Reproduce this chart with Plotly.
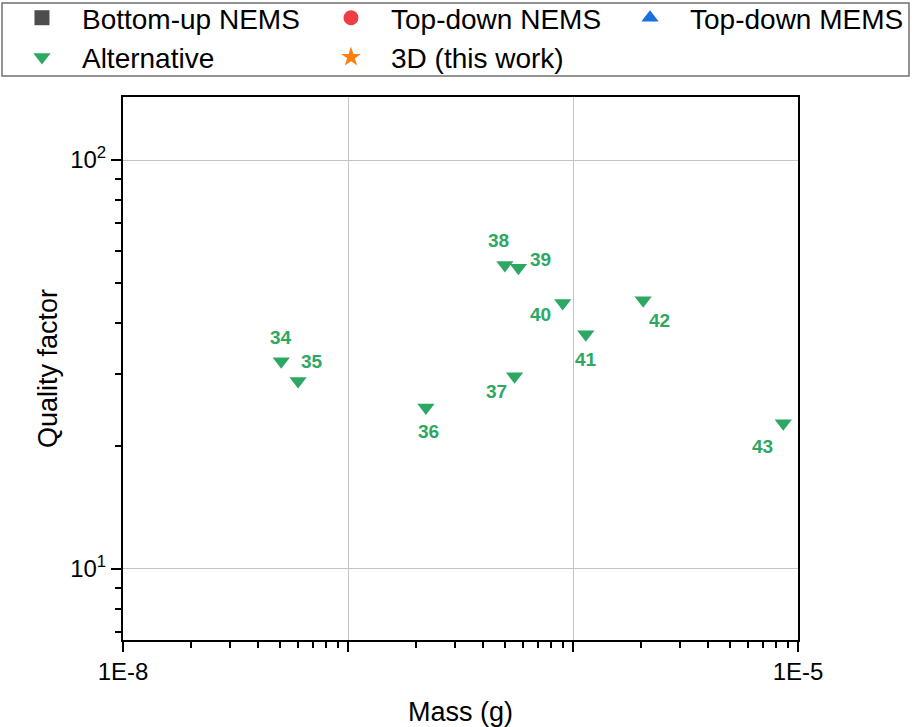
import numpy as np
import plotly.graph_objects as go

# ---- data ----
alt_refs = ["34", "35", "36", "37", "38", "39", "40", "41", "42", "43"]
alt_mass = [5.05e-8, 6.0e-8, 2.22e-7, 5.5e-7, 4.98e-7, 5.72e-7, 9.0e-7, 1.14e-6, 2.05e-6, 8.6e-6]
alt_q = [32.2, 28.8, 24.8, 29.6, 55.4, 54.5, 44.7, 37.5, 45.4, 22.7]

series_names = ["Bottom-up NEMS", "Top-down NEMS", "Top-down MEMS", "Alternative", "3D (this work)"]
series_symbols = ["square", "circle", "triangle-up", "triangle-down", "star"]
series_colors = ["#4d4d4d", "#ef3d45", "#1a6fdf", "#2ca862", "#ff7f0e"]
series_legend = ["legend", "legend2", "legend3", "legend", "legend2"]

# label offsets (pixels) for reference numbers
label_dx = [0, 14, 3, -18, -6, 22, -22, 0, 16, -21]
label_dy = [24, 20, -24, -15, 24, 8, -12, -25, -20, -23]

x_grid_ticks = [1e-8, 1e-7, 1e-6, 1e-5]
x_label_vals = [1e-8, 1e-5]
x_label_text = ["1E-8", "1E-5"]
x_minor = [k * 10.0 ** e for e in (-8, -7, -6) for k in range(2, 10)]
y_tickvals = [10, 100]
y_ticktext = ["10<sup>1</sup>", "10<sup>2</sup>"]
y_minor = [7, 8, 9, 20, 30, 40, 50, 60, 70, 80, 90]

FONT = "Liberation Sans, Arial, sans-serif"

fig = go.Figure()
for name, sym, col, lg in zip(series_names, series_symbols, series_colors, series_legend):
    if name == "Alternative":
        xs, ys = alt_mass, alt_q
    else:
        xs, ys = [None], [None]
    fig.add_trace(go.Scatter(
        x=xs, y=ys, mode="markers", name=name, legend=lg,
        marker=dict(symbol=sym, color=col, size=15, line=dict(width=0)),
    ))
# carrier for the labelled x axis
fig.add_trace(go.Scatter(x=[None], y=[None], xaxis="x2", showlegend=False,
                         hoverinfo="skip", mode="markers"))

for ref, m, q, dx, dy in zip(alt_refs, alt_mass, alt_q, label_dx, label_dy):
    fig.add_annotation(
        x=np.log10(m), y=np.log10(q), text=ref, showarrow=False,
        xshift=dx, yshift=dy,
        font=dict(family=FONT, size=19, color=series_colors[3], weight="bold"),
    )

axis_common = dict(
    type="log", showline=True, linecolor="black", linewidth=2, mirror=True,
    ticks="outside", ticklen=10, tickwidth=1.5, tickcolor="black",
    showgrid=True, gridcolor="#c4c4c4", gridwidth=1, zeroline=False,
    tickfont=dict(family=FONT, size=24, color="black"),
    automargin=False,
)

fig.update_layout(
    xaxis=dict(
        **axis_common,
        range=[-8, -5],
        tickmode="array", tickvals=x_grid_ticks, showticklabels=False,
        minor=dict(tickmode="array", tickvals=x_minor, ticks="outside", ticklen=6,
                   tickwidth=1.5, tickcolor="black", showgrid=False),
    ),
    xaxis2=dict(
        type="log", overlaying="x", anchor="y", side="bottom", range=[-8, -5],
        showline=False, showgrid=False, zeroline=False, ticks="outside",
        ticklen=10, tickcolor="rgba(0,0,0,0)",
        tickmode="array", tickvals=x_label_vals, ticktext=x_label_text,
        tickfont=dict(family=FONT, size=24, color="black"),
        automargin=False,
        title=dict(text="Mass (g)", font=dict(family=FONT, size=27, color="black"), standoff=20),
    ),
    yaxis=dict(
        **axis_common,
        range=[np.log10(6.7), np.log10(142.6)],
        tickmode="array", tickvals=y_tickvals, ticktext=y_ticktext,
        minor=dict(tickmode="array", tickvals=y_minor, ticks="outside", ticklen=6,
                   tickwidth=1.5, tickcolor="black", showgrid=False),
        title=dict(text="Quality factor", font=dict(family=FONT, size=27, color="black"), standoff=5),
    ),
)

legend_common = dict(
    orientation="v", xanchor="left", yanchor="top", y=1.1915,
    font=dict(family=FONT, size=28, color="black"),
    borderwidth=0, bgcolor="rgba(0,0,0,0)", itemwidth=70, tracegroupgap=0,
)

fig.update_layout(
    width=913, height=727,
    margin=dict(l=123, r=115, t=97, b=87, autoexpand=False),
    plot_bgcolor="white", paper_bgcolor="white",
    font=dict(family=FONT, color="black"),
    legend=dict(x=-0.1793, **legend_common),
    legend2=dict(x=0.2785, **legend_common),
    legend3=dict(x=0.7215, **legend_common),
    showlegend=True,
)

# legend frame
fig.add_shape(
    type="rect", xref="paper", yref="paper",
    x0=-0.17926, x1=1.16444, y0=1.03867, y1=1.17311,
    line=dict(color="#707070", width=1.5), fillcolor="rgba(0,0,0,0)", layer="below",
)

fig.write_html("out.html")
